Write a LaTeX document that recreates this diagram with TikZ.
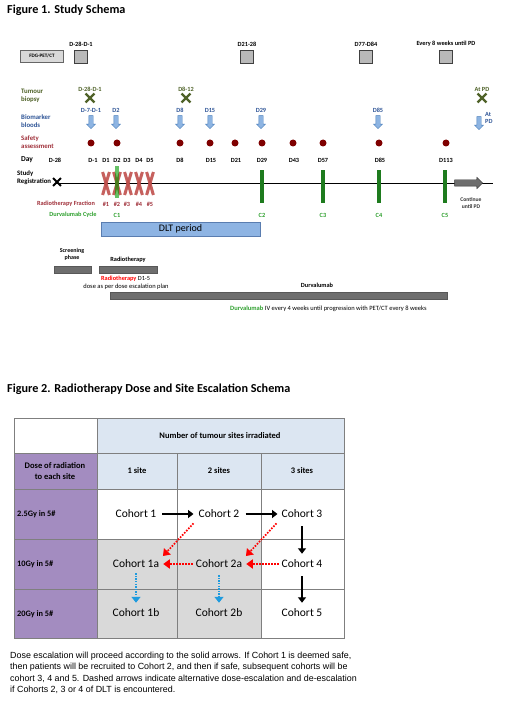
\documentclass[tikz,border=0pt]{standalone}
\usepackage{fontspec}
\setmainfont{Carlito}
\newfontfamily\capfont{Liberation Sans}
\usetikzlibrary{shapes.misc,shapes.arrows,arrows.meta}
\definecolor{olv}{HTML}{4F6228}
\definecolor{btxt}{HTML}{2F5597}
\definecolor{arrf}{HTML}{8DB4E2}
\definecolor{arrb}{HTML}{4A7EBB}
\definecolor{dred}{HTML}{7F0000}
\definecolor{rtxt}{HTML}{A0303A}
\definecolor{xred}{HTML}{C0504D}
\definecolor{gbarc}{HTML}{1E7B1E}
\definecolor{gtxt}{HTML}{2EA02E}
\definecolor{dltf}{HTML}{8EB4E3}
\definecolor{dltb}{HTML}{5A7DB0}
\definecolor{barg}{HTML}{6E6E6E}
\definecolor{lblue}{HTML}{DCE6F2}
\definecolor{purp}{HTML}{A38CC0}
\definecolor{lgray}{HTML}{D9D9D9}
\definecolor{gridc}{HTML}{7F7F7F}
\definecolor{dotblue}{HTML}{1F9BDE}
\definecolor{dotred}{HTML}{FF0000}
\begin{document}
\begin{tikzpicture}[x=1pt,y=-1pt,
  lab/.style={font=\fontsize{6.3}{7.3}\selectfont\bfseries, inner sep=0},
  side/.style={font=\fontsize{6.8}{8.6}\selectfont\bfseries, inner sep=0, anchor=west, align=left},
  sq/.style={draw=black!75, fill=gray!55, minimum size=13, inner sep=0, line width=0.6},
  bx/.style={cross out, draw=olv, line width=2.4, minimum size=6.5, inner sep=0},
  ba/.style={single arrow, draw=arrb, fill=arrf, shape border rotate=270, minimum height=13, minimum width=8.5, single arrow head extend=2.2pt, inner sep=2pt, line width=0.4},
  sdot/.style={circle, fill=dred, minimum size=7, inner sep=0},
  rxline/.style={draw=xred, line width=3, opacity=0.9},
  gbar/.style={fill=gbarc, minimum width=4.5, minimum height=33, inner sep=0},
  hbar/.style={fill=barg, draw=barg!80!black, line width=0.3, minimum height=7, inner sep=0},
  cell/.style={draw=gridc, line width=0.8},
  hdr/.style={font=\fontsize{8.5}{10.5}\selectfont\bfseries, inner sep=0, align=center},
  rowl/.style={font=\fontsize{8.3}{10}\selectfont\bfseries, inner sep=0, anchor=west},
  coh/.style={font=\fontsize{11.5}{13}\selectfont, inner sep=3},
  solidarr/.style={line width=1.7, -{Triangle[width=8pt,length=5.5pt]}},
  redarr/.style={dotred, line width=1.7, dash pattern=on 1.6pt off 1.4pt, -{Triangle[width=9pt,length=6.5pt]}},
  bluearr/.style={dotblue, line width=1.4, dash pattern=on 1.4pt off 1.2pt, -{Triangle[width=9pt,length=6pt]}}
]
\useasboundingbox[fill=white] (0,0) rectangle (520,708);

% ---------------- Figure 1 ----------------
\node[anchor=west, inner sep=0, font=\fontsize{12.2}{14}\selectfont\bfseries] (t1) at (7,10) {Figure 1. Study Schema};

% imaging row
\node[draw=black!60, fill=gray!30, minimum width=43, minimum height=12, inner sep=0, font=\fontsize{5.1}{6}\selectfont\bfseries] (pet) at (42,56) {FDG-PET/CT};
\foreach \x/\t [count=\i] in {81/D-28-D-1, 247/D21-28, 366/D77-D84, 446/Every 8 weeks until PD} {
  \node[sq] (sq\i) at (\x,57) {};
  \node[lab] (sql\i) at (\x,44) {\t};
}

% tumour biopsy
\node[side, text=olv] (biol) at (21,96) {Tumour\\biopsy};
\foreach \x/\t [count=\i] in {90/D-28-D-1, 186/D8-12, 482/At PD} {
  \node[lab, text=olv] (bxl\i) at (\x,89) {\t};
  \node[bx] (bx\i) at (\x,98) {};
}

% biomarker bloods
\node[side, text=btxt] (bbl) at (21,121) {Biomarker\\bloods};
\foreach \x/\t [count=\i] in {91/D-7-D-1, 116/D2, 180/D8, 210/D15, 261/D29, 378/D85} {
  \node[lab, text=btxt] (bal\i) at (\x,110) {\t};
  \node[ba] (ba\i) at (\x,121) {};
}
\node[ba] (ba7) at (479,122) {};
\node[lab, text=btxt, anchor=west, align=left] (bal7) at (485,118) {At\\PD};

% safety
\node[side, text=rtxt] (safl) at (21,142) {Safety\\assessment};
\foreach \x [count=\i] in {91,117,180,210,235,262,293,323,379,446} {
  \node[sdot] (dot\i) at (\x,143) {};
}

% day row
\node[side, font=\fontsize{7.5}{8.5}\selectfont\bfseries] (dayl) at (21,160) {Day};
\foreach \x/\t [count=\i] in {55/D-28, 93/D-1, 106/D1, 117/D2, 127/D3, 139/D4, 150/D5, 180/D8, 211/D15, 236/D21, 262/D29, 294/D43, 323/D57, 380/D85, 446/D113} {
  \node[lab] (day\i) at (\x,160) {\t};
}

% timeline
\node[side, font=\fontsize{6.8}{8}\selectfont\bfseries] (regl) at (17,178) {Study\\Registration};
\coordinate (tl0) at (56,183);
\coordinate (tl1) at (493,183);
\draw[line width=0.9] (tl0) -- (tl1);
\node[cross out, draw=black, line width=1.9, minimum size=6, inner sep=0] (reg) at (57,182) {};
\foreach \x in {106,117,128,139,150} {
  \draw[rxline] (\x-3.4,172) -- (\x+3.4,195);
  \draw[rxline] (\x+3.4,172) -- (\x-3.4,195);
}
\node[gbar, minimum height=32, opacity=0.6, fill=green!60!black] (gb0) at (117,182) {};
\foreach \x [count=\i] in {262,323,379,445} {
  \node[gbar] (gb\i) at (\x,186.5) {};
}
\node[single arrow, draw=black!80, fill=barg, line width=0.4, minimum height=28, minimum width=11, single arrow head extend=2.5pt, inner sep=3pt, shape border rotate=0] (cont) at (467,183) {};
\node[lab, font=\fontsize{5.6}{6.8}\selectfont\bfseries, text=black!80, align=center] (contl) at (471,203) {Continue\\until PD};

% fraction and cycle rows
\node[lab, text=rtxt] (frl) at (66,204) {Radiotherapy Fraction};
\foreach \x/\t [count=\i] in {106/\#1, 117/\#2, 127/\#3, 139/\#4, 150/\#5} {
  \node[lab, text=rtxt] (fr\i) at (\x,204) {\t};
}
\node[lab, text=gtxt] (cyl) at (73,215) {Durvalumab Cycle};
\foreach \x/\t [count=\i] in {117/C1, 262/C2, 323/C3, 379/C4, 445/C5} {
  \node[lab, text=gtxt] (cy\i) at (\x,215) {\t};
}

% DLT period
\node[draw=dltb, fill=dltf, line width=0.6, minimum width=159, minimum height=14, inner sep=0, font=\fontsize{10}{11}\selectfont] (dlt) at (180.5,229) {DLT period};

% phases
\node[lab, font=\fontsize{6}{7}\selectfont\bfseries, align=center] (scrl) at (72,254) {Screening\\phase};
\node[hbar, minimum width=37] (scr) at (72.5,269.5) {};
\node[lab] (rtl) at (128,260) {Radiotherapy};
\node[hbar, minimum width=58] (rtb) at (128,269.5) {};
\node[inner sep=0, anchor=west, font=\fontsize{6.3}{7}\selectfont] (rtt) at (101,279) {\textcolor{red}{\bfseries Radiotherapy} D1-5};
\node[inner sep=0, font=\fontsize{6.5}{7.5}\selectfont] (rtt2) at (126,287) {dose as per dose escalation plan};
\node[lab] (dvl) at (317,285) {Durvalumab};
\node[hbar, minimum width=337] (dvb) at (278.5,295.5) {};
\node[inner sep=0, anchor=west, font=\fontsize{6.5}{7.5}\selectfont] (dvt) at (230,309) {\textcolor{gtxt}{\bfseries Durvalumab} IV every 4 weeks until progression with PET/CT every 8 weeks};

% ---------------- Figure 2 ----------------
\node[anchor=west, inner sep=0, font=\fontsize{12.2}{14}\selectfont\bfseries] (t2) at (7,389) {Figure 2. Radiotherapy Dose and Site Escalation Schema};

% cell fills
\fill[white] (14,418) rectangle (97,453);
\fill[lblue] (97,418) rectangle (344,489);
\fill[purp] (14,453) rectangle (97,638);
\fill[white] (97,489) rectangle (344,539);
\fill[lgray] (97,539) rectangle (261,638);
\fill[white] (261,539) rectangle (344,638);
% grid
\draw[cell] (14,418) rectangle (344,638);
\draw[cell] (14,453) -- (344,453);
\draw[cell] (14,489) -- (344,489);
\draw[cell] (14,539) -- (344,539);
\draw[cell] (14,589) -- (344,589);
\draw[cell] (97,418) -- (97,638);
\draw[cell] (177,453) -- (177,638);
\draw[cell] (261,453) -- (261,638);

\node[hdr] (h0) at (220,435.5) {Number of tumour sites irradiated};
\node[hdr] (h1) at (55,471) {Dose of radiation\\to each site};
\node[hdr] (h2) at (137,471) {1 site};
\node[hdr] (h3) at (219,471) {2 sites};
\node[hdr] (h4) at (302,471) {3 sites};
\node[rowl] (r1) at (17,514) {2.5Gy in 5\#};
\node[rowl] (r2) at (17,564) {10Gy in 5\#};
\node[rowl] (r3) at (17,614) {20Gy in 5\#};

\node[coh] (c1) at (136,514) {Cohort 1};
\node[coh] (c2) at (219,514) {Cohort 2};
\node[coh] (c3) at (302,514) {Cohort 3};
\node[coh] (c1a) at (136,564) {Cohort 1a};
\node[coh] (c2a) at (219,564) {Cohort 2a};
\node[coh] (c4) at (302,564) {Cohort 4};
\node[coh] (c1b) at (136,613) {Cohort 1b};
\node[coh] (c2b) at (219,613) {Cohort 2b};
\node[coh] (c5) at (302,613) {Cohort 5};

\draw[solidarr, shorten <=3pt, shorten >=2pt] (c1.east) -- (c2.west);
\draw[solidarr, shorten <=3pt, shorten >=1pt] (c2.east) -- (c3.west);
\draw[solidarr, shorten <=5pt, shorten >=3pt] (c3.south) -- (c4.north);
\draw[solidarr, shorten <=5pt, shorten >=3pt] (c4.south) -- (c5.north);
\draw[redarr, shorten <=3pt, shorten >=1pt] (c2.south west) -- (c1a.north east);
\draw[redarr, shorten <=3pt, shorten >=1pt] (c3.south west) -- (c2a.north east);
\draw[redarr, shorten <=0pt, shorten >=1pt] (c2a.west) -- (c1a.east);
\draw[redarr, shorten <=0pt, shorten >=1pt] (c4.west) -- (c2a.east);
\draw[bluearr, shorten <=2pt, shorten >=3pt] (c1a.south) -- (c1b.north);
\draw[bluearr, shorten <=4pt, shorten >=3pt] (c2a.south) -- (c2b.north);

\node[anchor=north west, inner sep=0, align=left, font=\capfont\fontsize{8.9}{11.3}\selectfont] (cap) at (10,652) {Dose escalation will proceed according to the solid arrows. If Cohort 1 is deemed safe,\\then patients will be recruited to Cohort 2, and then if safe, subsequent cohorts will be\\cohort 3, 4 and 5. Dashed arrows indicate alternative dose-escalation and de-escalation\\if Cohorts 2, 3 or 4 of DLT is encountered.};
\end{tikzpicture}
\end{document}
